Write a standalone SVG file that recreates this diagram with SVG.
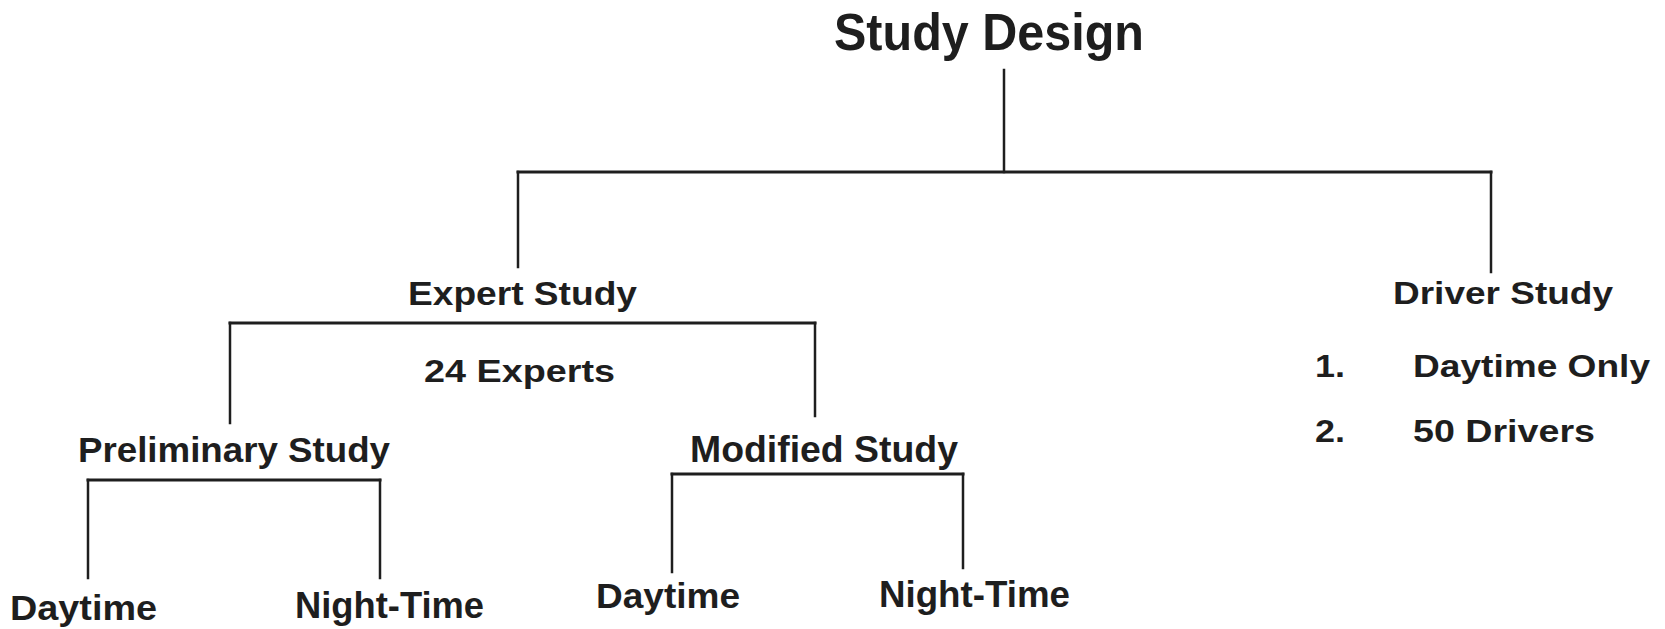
<svg xmlns="http://www.w3.org/2000/svg" width="1665" height="629" viewBox="0 0 1665 629">
<style>
.t{font-family:"Liberation Sans",Arial,Helvetica,sans-serif;font-weight:bold;fill:#1e1e1e}
.c line{stroke:#1e1e1e;stroke-width:2.5;stroke-linecap:square}
.c line.h{stroke-width:3}
</style>
<rect width="1665" height="629" fill="#ffffff"/>
<g id="connectors" class="c">
<line x1="1004" y1="70" x2="1004" y2="172"/>
<line class="h" x1="518" y1="172" x2="1491" y2="172"/>
<line x1="518" y1="172" x2="518" y2="267"/>
<line x1="1491" y1="172" x2="1491" y2="272"/>
<line class="h" x1="230" y1="323" x2="815" y2="323"/>
<line x1="230" y1="323" x2="230" y2="423"/>
<line x1="815" y1="323" x2="815" y2="416"/>
<line class="h" x1="88" y1="480" x2="380" y2="480"/>
<line x1="88" y1="480" x2="88" y2="578"/>
<line x1="380" y1="480" x2="380" y2="578"/>
<line class="h" x1="672" y1="474" x2="963" y2="474"/>
<line x1="672" y1="474" x2="672" y2="572"/>
<line x1="963" y1="474" x2="963" y2="568"/>
</g>
<g id="study-design"><text class="t" x="834" y="50" font-size="52" textLength="310" lengthAdjust="spacingAndGlyphs">Study Design</text></g>
<g id="expert-study">
<text class="t" x="408" y="305" font-size="34" textLength="229" lengthAdjust="spacingAndGlyphs">Expert Study</text>
<text class="t" x="424" y="382" font-size="32" textLength="191" lengthAdjust="spacingAndGlyphs">24 Experts</text>
</g>
<g id="driver-study">
<text class="t" x="1393" y="304" font-size="31" textLength="220" lengthAdjust="spacingAndGlyphs">Driver Study</text>
<text class="t" x="1315" y="377" font-size="31" textLength="30" lengthAdjust="spacingAndGlyphs">1.</text>
<text class="t" x="1413" y="377" font-size="31" textLength="237" lengthAdjust="spacingAndGlyphs">Daytime Only</text>
<text class="t" x="1315" y="442" font-size="31" textLength="30" lengthAdjust="spacingAndGlyphs">2.</text>
<text class="t" x="1413" y="442" font-size="31" textLength="182" lengthAdjust="spacingAndGlyphs">50 Drivers</text>
</g>
<g id="preliminary-study"><text class="t" x="78" y="462" font-size="35" textLength="312" lengthAdjust="spacingAndGlyphs">Preliminary Study</text></g>
<g id="modified-study"><text class="t" x="690" y="462" font-size="36" textLength="268" lengthAdjust="spacingAndGlyphs">Modified Study</text></g>
<g id="prelim-daytime"><text class="t" x="10" y="620" font-size="35" textLength="147" lengthAdjust="spacingAndGlyphs">Daytime</text></g>
<g id="prelim-nighttime"><text class="t" x="295" y="618" font-size="36" textLength="189" lengthAdjust="spacingAndGlyphs">Night-Time</text></g>
<g id="modified-daytime"><text class="t" x="596" y="608" font-size="35" textLength="144" lengthAdjust="spacingAndGlyphs">Daytime</text></g>
<g id="modified-nighttime"><text class="t" x="879" y="607" font-size="37" textLength="191" lengthAdjust="spacingAndGlyphs">Night-Time</text></g>
</svg>
